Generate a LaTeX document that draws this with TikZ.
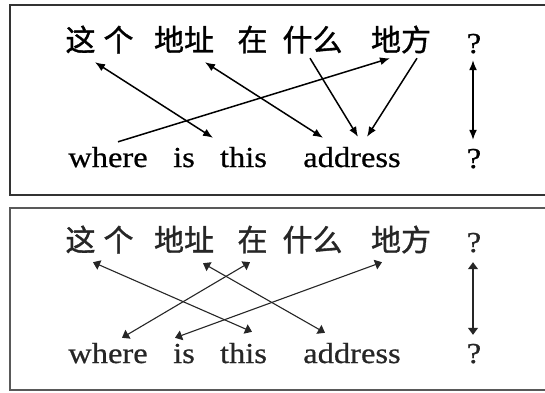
\documentclass[tikz,border=0pt]{standalone}
\usepackage{fontspec}
\newfontfamily\cjk[FakeBold=1.2]{Noto Sans CJK SC}
\newfontfamily\enfont[FakeStretch=1.12,FakeBold=0.6]{Liberation Serif}
\usetikzlibrary{arrows.meta,calc}
\begin{document}
\begin{tikzpicture}[x=1pt,y=-1pt,
  zh/.style={anchor=base,inner sep=0pt,text height=22pt,text depth=4pt,
    font=\cjk\fontsize{30pt}{36pt}\selectfont},
  en/.style={anchor=base,inner sep=0pt,text height=20pt,text depth=1pt,
    font=\enfont\fontsize{29pt}{34pt}\selectfont},
  topline/.style={line width=1.5pt,black},
  botline/.style={line width=1.1pt,black!85},
  toptip/.style={-{Latex[length=10pt,width=8pt]}},
  topdbl/.style={{Latex[length=10pt,width=8pt]}-{Latex[length=10pt,width=8pt]}},
  botdbl/.style={{Triangle[length=7pt,width=10pt]}-{Triangle[length=7pt,width=10pt]}},
  topframe/.style={draw=black!80,line width=2pt},
  botframe/.style={draw=black!65,line width=1.5pt}]
\useasboundingbox (0,0) rectangle (545,392);
\fill[white] (0,0) rectangle (545,392);
% frames
\draw[topframe] (10,5) rectangle (560,195);
\draw[botframe] (10,208) rectangle (560,390);
% ---------- top panel ----------
\node[zh] (t-zhege)   at (99.5,51) {这\hspace{8pt}个};
\node[zh] (t-dizhi)   at (184,51)  {地址};
\node[zh] (t-zai)     at (252.5,51){在};
\node[zh] (t-shenme)  at (312.5,51){什么};
\node[zh] (t-difang)  at (401,51)  {地方};
\node[en] (t-q1)      at (474,53) {?};
\node[en] (t-where)   at (108,167) {where};
\node[en] (t-is)      at (184,167) {is};
\node[en] (t-this)    at (243.5,167) {this};
\node[en] (t-address) at (352,167) {address};
\node[en] (t-q2)      at (474,168) {?};
\draw[topline,topdbl] ($(t-zhege.south)+(-4.5,7)$) -- ($(t-this.north)+(-30.5,-9)$);
\draw[topline,topdbl] ($(t-dizhi.south)+(21,7)$) -- ($(t-address.north)+(-29,-9)$);
\draw[topline,toptip] ($(t-where.north)+(10,-5)$) -- ($(t-difang.south)+(-11,3)$);
\draw[topline,toptip] ($(t-shenme.south)+(-2.5,3)$) -- ($(t-address.north)+(6,-10)$);
\draw[topline,toptip] ($(t-difang.south)+(16,3)$) -- ($(t-address.north)+(15,-10)$);
\draw[topline,topdbl] ($(t-q1.south)+(-1,6)$) -- ($(t-q2.north)+(-1,-8)$);
% ---------- bottom panel ----------
\node[zh,text=black!85] (b-zhege)   at (99.5,251) {这\hspace{8pt}个};
\node[zh,text=black!85] (b-dizhi)   at (184,251)  {地址};
\node[zh,text=black!85] (b-zai)     at (252.5,251){在};
\node[zh,text=black!85] (b-shenme)  at (312.5,251){什么};
\node[zh,text=black!85] (b-difang)  at (401,251)  {地方};
\node[en,text=black!85] (b-q1)      at (474,252) {?};
\node[en,text=black!85] (b-where)   at (108,363) {where};
\node[en,text=black!85] (b-is)      at (184,363) {is};
\node[en,text=black!85] (b-this)    at (243.5,363) {this};
\node[en,text=black!85] (b-address) at (352,363) {address};
\node[en,text=black!85] (b-q2)      at (474,363) {?};
\draw[botline,botdbl] ($(b-zhege.south)+(-6.5,7)$) -- ($(b-this.north)+(8.5,-11)$);
\draw[botline,botdbl] ($(b-dizhi.south)+(19,8)$) -- ($(b-address.north)+(-27,-10)$);
\draw[botline,botdbl] ($(b-zai.south)+(-2.5,7)$) -- ($(b-where.north)+(14,-5)$);
\draw[botline,botdbl] ($(b-difang.south)+(-19,7)$) -- ($(b-is.north)+(-9,-5)$);
\draw[botline,botdbl] ($(b-q1.south)+(-1,9)$) -- ($(b-q2.north)+(-1,-8)$);
\end{tikzpicture}
\end{document}
